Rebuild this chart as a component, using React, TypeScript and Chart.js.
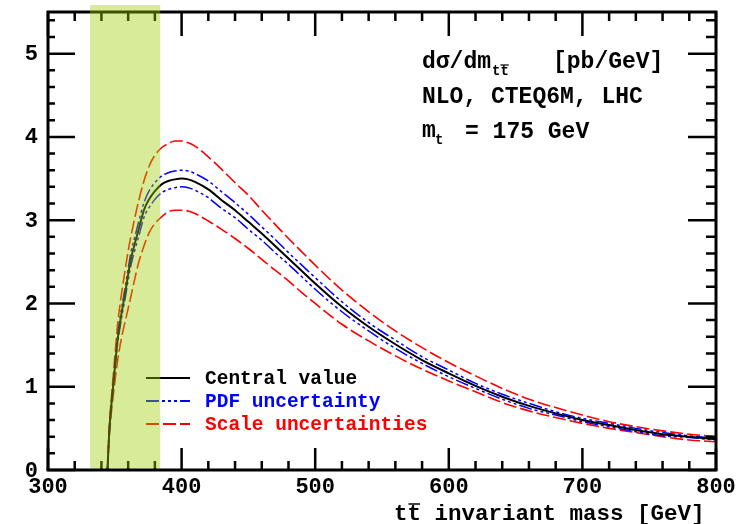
import React, { useEffect, useRef } from "react";
import { Chart, registerables } from "chart.js";

Chart.register(...registerables);

// ---- data ----
const massGeV = [
  344.5, 346, 348, 350, 352, 354, 356, 358, 360, 362,
  365, 368, 372, 376, 380, 385, 390, 395, 400, 405,
  410, 420, 430, 440, 450, 460, 470, 480, 490, 500,
  520, 540, 560, 580, 600, 620, 640, 660, 680, 700,
  720, 740, 760, 780, 800,
];
const centralValue = [
  0, 0.5, 0.88, 1.22, 1.55, 1.78, 1.97, 2.15, 2.35, 2.53,
  2.72, 2.9, 3.13, 3.26, 3.35, 3.43, 3.47, 3.49, 3.5, 3.49,
  3.46, 3.37, 3.24, 3.12, 2.98, 2.84, 2.69, 2.54, 2.39, 2.24,
  1.96, 1.72, 1.51, 1.32, 1.16, 1.01, 0.88, 0.77, 0.68, 0.6,
  0.54, 0.48, 0.43, 0.4, 0.37,
];
const pdfUpper = [
  0, 0.52, 0.91, 1.26, 1.6, 1.84, 2.03, 2.22, 2.42, 2.61,
  2.8, 2.99, 3.22, 3.36, 3.45, 3.53, 3.57, 3.59, 3.6, 3.59,
  3.56, 3.47, 3.34, 3.21, 3.07, 2.92, 2.77, 2.61, 2.46, 2.31,
  2.02, 1.77, 1.56, 1.36, 1.2, 1.04, 0.91, 0.8, 0.7, 0.62,
  0.56, 0.5, 0.45, 0.41, 0.38,
];
const pdfLower = [
  0, 0.48, 0.85, 1.18, 1.5, 1.72, 1.91, 2.08, 2.28, 2.45,
  2.64, 2.81, 3.04, 3.16, 3.25, 3.33, 3.37, 3.39, 3.4, 3.39,
  3.36, 3.27, 3.14, 3.03, 2.89, 2.76, 2.61, 2.47, 2.32, 2.17,
  1.9, 1.67, 1.46, 1.28, 1.12, 0.98, 0.85, 0.74, 0.66, 0.58,
  0.52, 0.46, 0.41, 0.39, 0.36,
];
const scaleUpper = [
  0, 0.55, 0.97, 1.36, 1.73, 2.0, 2.22, 2.43, 2.63, 2.8,
  3.03, 3.24, 3.48, 3.66, 3.78, 3.87, 3.92, 3.95, 3.95, 3.93,
  3.89, 3.76, 3.61, 3.45, 3.3, 3.12, 2.95, 2.78, 2.62, 2.46,
  2.16, 1.9, 1.67, 1.47, 1.29, 1.13, 0.98, 0.85, 0.75, 0.66,
  0.58, 0.52, 0.47, 0.43, 0.4,
];
const scaleLower = [
  0, 0.42, 0.78, 1.05, 1.3, 1.5, 1.66, 1.8, 1.94, 2.08,
  2.3, 2.5, 2.7, 2.86, 2.96, 3.04, 3.1, 3.12, 3.12, 3.11,
  3.08, 2.99, 2.89, 2.78, 2.66, 2.53, 2.4, 2.27, 2.13, 2.0,
  1.75, 1.55, 1.37, 1.21, 1.07, 0.94, 0.81, 0.71, 0.63, 0.56,
  0.5, 0.45, 0.4, 0.36, 0.34,
];

const xTickLabels = [300, 400, 500, 600, 700, 800];
const yTickLabels = [0, 1, 2, 3, 4, 5];
const xRange = [300, 800];
const yRange = [0, 5.5];
const xMinorStep = 20;
const yMinorStep = 0.2;
const bandRange = [331.5, 384];

const legendLabels = ["Central value", "PDF uncertainty", "Scale uncertainties"];
const xTitleTail = " invariant mass [GeV]";
const noteLine2 = "NLO, CTEQ6M, LHC";
const noteMassText = "= 175 GeV";

const FONT = "'Liberation Mono', 'DejaVu Sans Mono', monospace";
const BLACK = "#000000";
const BLUE = "#0000ff";
const RED = "#ff0000";
const PDF_DASH = [13, 3, 3, 3, 3, 3, 3, 3];
const SCALE_DASH = [13, 4];

function pts(ys: number[]) {
  return massGeV.map((x, i) => ({ x, y: ys[i] }));
}

const framePlugin = {
  id: "frameAndText",
  afterDatasetsDraw(chart: any) {
    const ctx: CanvasRenderingContext2D = chart.ctx;
    const xs = chart.scales.x;
    const ys = chart.scales.y;
    const a = chart.chartArea;
    ctx.save();
    ctx.strokeStyle = BLACK;
    ctx.lineCap = "butt";

    // ticks (inward) on all four sides
    ctx.lineWidth = 2.5;
    const nx = Math.round((xRange[1] - xRange[0]) / xMinorStep);
    for (let i = 0; i <= nx; i++) {
      const v = xRange[0] + i * xMinorStep;
      const major = xTickLabels.includes(v);
      const px = xs.getPixelForValue(v);
      ctx.beginPath();
      ctx.moveTo(px, a.bottom);
      ctx.lineTo(px, a.bottom - (major ? 22 : 9));
      ctx.moveTo(px, a.top);
      ctx.lineTo(px, a.top + (major ? 24 : 9));
      ctx.stroke();
    }
    const ny = Math.floor((yRange[1] - yRange[0]) / yMinorStep + 1e-6);
    for (let i = 0; i <= ny; i++) {
      const v = yRange[0] + i * yMinorStep;
      const major = i % 5 === 0;
      const py = ys.getPixelForValue(v);
      ctx.beginPath();
      ctx.moveTo(a.left, py);
      ctx.lineTo(a.left + (major ? 27 : 7), py);
      ctx.moveTo(a.right, py);
      ctx.lineTo(a.right - (major ? 28 : 10), py);
      ctx.stroke();
    }

    // frame: top, left, right
    ctx.lineWidth = 3;
    ctx.beginPath();
    ctx.moveTo(a.left, a.bottom);
    ctx.lineTo(a.left, a.top);
    ctx.lineTo(a.right, a.top);
    ctx.lineTo(a.right, a.bottom);
    ctx.stroke();

    // legend samples
    const lx0 = 146, lx1 = 190;
    const legY = [378, 401, 424];
    const legStyles = [
      { c: BLACK, d: [] as number[], w: 2 },
      { c: BLUE, d: PDF_DASH, w: 2 },
      { c: RED, d: SCALE_DASH, w: 2 },
    ];
    legStyles.forEach((s, i) => {
      ctx.strokeStyle = s.c;
      ctx.lineWidth = s.w;
      ctx.setLineDash(s.d);
      ctx.beginPath();
      ctx.moveTo(lx0, legY[i]);
      ctx.lineTo(lx1, legY[i]);
      ctx.stroke();
    });
    ctx.setLineDash([]);

    // shaded band on top
    const bx0 = xs.getPixelForValue(bandRange[0]);
    const bx1 = xs.getPixelForValue(bandRange[1]);
    const by0 = a.top - 7;
    const by1 = ys.getPixelForValue(0) - 1.5;
    ctx.fillStyle = "rgba(156, 205, 0, 0.4)";
    ctx.fillRect(bx0, by0, bx1 - bx0, by1 - by0);

    // bottom axis line
    ctx.strokeStyle = BLACK;
    ctx.lineWidth = 3;
    ctx.beginPath();
    ctx.moveTo(a.left - 1.5, a.bottom);
    ctx.lineTo(a.right + 1.5, a.bottom);
    ctx.stroke();

    // tick labels
    ctx.fillStyle = BLACK;
    ctx.font = `bold 22px ${FONT}`;
    ctx.textBaseline = "middle";
    ctx.textAlign = "center";
    xTickLabels.forEach((v) => {
      ctx.fillText(String(v), xs.getPixelForValue(v), a.bottom + 17);
    });
    ctx.textAlign = "right";
    yTickLabels.forEach((v) => {
      ctx.fillText(String(v), a.left - 10, ys.getPixelForValue(v) + 1);
    });

    // x title: t t-bar invariant mass [GeV]
    ctx.textAlign = "left";
    ctx.font = `bold 22.5px ${FONT}`;
    const tx = 394, ty = 514;
    ctx.fillText("tt" + xTitleTail, tx, ty);
    const tw = ctx.measureText("t").width;
    ctx.lineWidth = 1.5;
    ctx.beginPath();
    ctx.moveTo(tx + tw + 1, ty - 10);
    ctx.lineTo(tx + 2 * tw - 1, ty - 10);
    ctx.stroke();

    // annotation
    ctx.font = `bold 23px ${FONT}`;
    ctx.fillText("d\u03c3/dm", 422, 62);
    ctx.font = `bold 14px ${FONT}`;
    const sx = 422 + 5 * 13.8 + 1;
    ctx.fillText("tt", sx, 71);
    const sw = ctx.measureText("t").width;
    ctx.lineWidth = 1.2;
    ctx.beginPath();
    ctx.moveTo(sx + sw, 65);
    ctx.lineTo(sx + 2 * sw, 65);
    ctx.stroke();
    ctx.font = `bold 23px ${FONT}`;
    ctx.fillText("[pb/GeV]", 553, 62);
    ctx.fillText(noteLine2, 422, 97);
    ctx.fillText("m", 422, 131);
    ctx.font = `bold 14px ${FONT}`;
    ctx.fillText("t", 435, 140);
    ctx.font = `bold 23px ${FONT}`;
    ctx.fillText(noteMassText, 465, 132);

    // legend texts
    ctx.font = `bold 19.5px ${FONT}`;
    const legColors = [BLACK, BLUE, RED];
    legendLabels.forEach((t, i) => {
      ctx.fillStyle = legColors[i];
      ctx.fillText(t, 205, legY[i] + 1);
    });

    ctx.restore();
  },
};

export default function App() {
  const ref = useRef<HTMLCanvasElement | null>(null);
  useEffect(() => {
    if (!ref.current) return;
    const chart = new Chart(ref.current, {
      type: "line",
      data: {
        datasets: [
          {
            label: legendLabels[0],
            data: pts(centralValue),
            borderColor: BLACK,
            borderWidth: 2,
            pointRadius: 0,
            cubicInterpolationMode: "monotone",
            order: 0,
          },
          {
            label: legendLabels[1],
            data: pts(pdfUpper),
            borderColor: BLUE,
            borderWidth: 1.5,
            borderDash: PDF_DASH,
            pointRadius: 0,
            cubicInterpolationMode: "monotone",
            order: 1,
          },
          {
            label: legendLabels[1] + " low",
            data: pts(pdfLower),
            borderColor: BLUE,
            borderWidth: 1.5,
            borderDash: PDF_DASH,
            pointRadius: 0,
            cubicInterpolationMode: "monotone",
            order: 1,
          },
          {
            label: legendLabels[2],
            data: pts(scaleUpper),
            borderColor: RED,
            borderWidth: 1.6,
            borderDash: SCALE_DASH,
            pointRadius: 0,
            cubicInterpolationMode: "monotone",
            order: 2,
          },
          {
            label: legendLabels[2] + " low",
            data: pts(scaleLower),
            borderColor: RED,
            borderWidth: 1.6,
            borderDash: SCALE_DASH,
            pointRadius: 0,
            cubicInterpolationMode: "monotone",
            order: 2,
          },
        ],
      },
      options: {
        animation: false,
        responsive: false,
        devicePixelRatio: 1,
        parsing: true,
        layout: { padding: { left: 48, right: 30, top: 12, bottom: 54 } },
        plugins: {
          legend: { display: false },
          tooltip: { enabled: false },
        },
        scales: {
          x: { type: "linear", min: xRange[0], max: xRange[1], display: false },
          y: { type: "linear", min: yRange[0], max: yRange[1], display: false },
        },
      },
      plugins: [framePlugin],
    } as any);
    return () => chart.destroy();
  }, []);
  return (
    <div style={{ position: "fixed", left: 0, top: 0, width: 746, height: 524, background: "#fff" }}>
      <canvas ref={ref} width={746} height={524} style={{ display: "block" }} />
    </div>
  );
}
